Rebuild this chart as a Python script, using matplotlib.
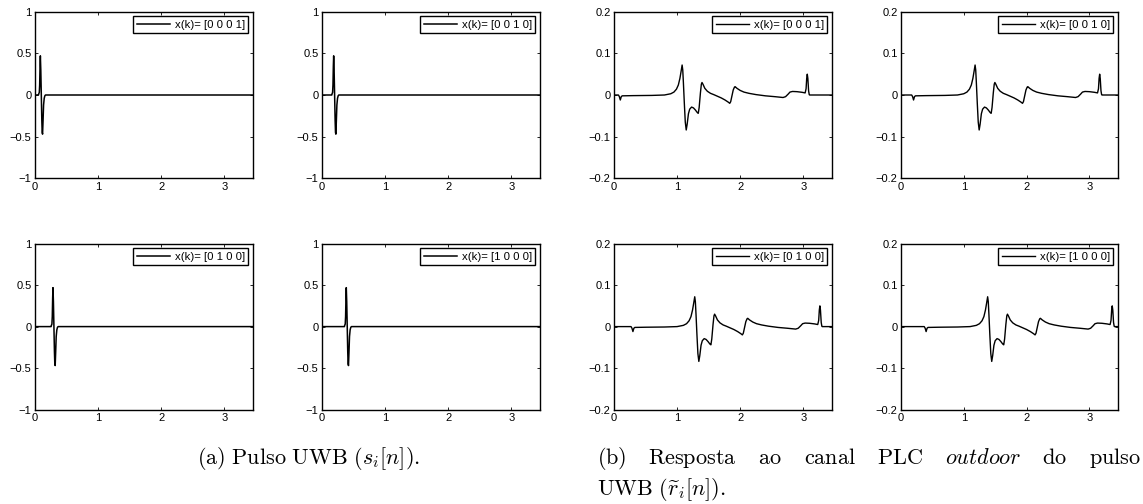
import numpy as np
import matplotlib
matplotlib.use("Agg")
import matplotlib.pyplot as plt

plt.rcParams['font.family'] = ['Liberation Sans', 'DejaVu Sans']
plt.rcParams['mathtext.fontset'] = 'cm'

# ---------------- data ----------------
legend_labels = ["x(k)= [0 0 0 1]", "x(k)= [0 0 1 0]", "x(k)= [0 1 0 0]", "x(k)= [1 0 0 0]"]
shifts = [0.0, 0.1, 0.2, 0.3]          # delay of each symbol position

# UWB pulse shape (time relative to pulse_center, amplitude)
pulse_t = [-0.060, -0.045, -0.038, -0.032, -0.026, -0.020, -0.015, -0.008, 0.000,
           0.008, 0.014, 0.020, 0.028, 0.036, 0.046, 0.056, 0.066, 0.080]
pulse_v = [0.0, 0.0, 0.02, 0.03, 0.12, 0.35, 0.47, 0.30, 0.0,
           -0.30, -0.45, -0.47, -0.30, -0.12, -0.04, -0.01, 0.0, 0.0]
pulse_center = 0.10

# channel response to the pulse
resp_t = [0.00, 0.07, 0.085, 0.10, 0.115, 0.13, 0.30, 0.60, 0.80, 0.90, 0.95, 0.99,
          1.02, 1.045, 1.065, 1.08, 1.09, 1.10, 1.115, 1.13, 1.145, 1.16, 1.18, 1.20,
          1.23, 1.26, 1.29, 1.32, 1.336, 1.35, 1.37, 1.385, 1.395, 1.41, 1.44, 1.48,
          1.53, 1.58, 1.64, 1.70, 1.76, 1.81, 1.835, 1.85, 1.87, 1.89, 1.91, 1.92,
          1.95, 2.00, 2.06, 2.14, 2.25, 2.40, 2.55, 2.68, 2.72, 2.76, 2.79, 2.83,
          2.90, 2.98, 3.03, 3.045, 3.055, 3.064, 3.073, 3.085, 3.095, 3.10, 3.60]
resp_v = [0.0, 0.0, -0.004, -0.012, -0.004, -0.002, -0.0015, -0.001, 0.0, 0.003, 0.007, 0.014,
          0.024, 0.040, 0.058, 0.072, 0.060, 0.030, -0.020, -0.065, -0.084, -0.070, -0.045, -0.034,
          -0.029, -0.031, -0.036, -0.042, -0.044, -0.030, 0.005, 0.026, 0.030, 0.026, 0.016, 0.009,
          0.004, 0.001, -0.003, -0.007, -0.012, -0.017, -0.020, -0.016, -0.002, 0.012, 0.019, 0.020,
          0.016, 0.011, 0.007, 0.004, 0.001, -0.002, -0.004, -0.006, -0.004, 0.002, 0.007, 0.0085,
          0.008, 0.0065, 0.005, 0.015, 0.040, 0.050, 0.040, 0.010, 0.001, 0.0, 0.0]

xlim = (0, 3.456)
pulse_ylim = (-1, 1)
pulse_yticks = [-1, -0.5, 0, 0.5, 1]
resp_ylim = (-0.2, 0.2)
resp_yticks = [-0.2, -0.1, 0, 0.1, 0.2]
xticks = [0, 1, 2, 3]

caption_a = r"$\mathrm{(a)\ Pulso\ UWB\ (}s_i[n]\mathrm{).}$"
caption_b_words = [r"$\mathrm{(b)}$", r"$\mathrm{Resposta}$", r"$\mathrm{ao}$", r"$\mathrm{canal}$",
                   r"$\mathrm{PLC}$", r"$\mathit{outdoor}$", r"$\mathrm{do}$", r"$\mathrm{pulso}$"]
caption_b_line2 = r"$\mathrm{UWB\ (}\widetilde{r}_i[n]\mathrm{).}$"

# ---------------- figure ----------------
W, H = 1143, 504
fig = plt.figure(figsize=(W / 100, H / 100), dpi=100)

cols = [(35, 253), (322, 540), (614, 832), (901, 1118)]
rows = [(11.7, 178.3), (243.7, 409.5)]

def make_ax(col, row):
    x0, x1 = cols[col]
    y0, y1 = rows[row]
    return fig.add_axes([x0 / W, 1 - y1 / H, (x1 - x0) / W, (y1 - y0) / H])

grid_pos = [(0, 0), (1, 0), (0, 1), (1, 1)]

def style(ax, ylim, yticks):
    ax.set_xlim(*xlim)
    ax.set_ylim(*ylim)
    ax.set_xticks(xticks)
    ax.set_yticks(yticks)
    ax.set_yticklabels([("%g" % v).replace("-", "\u2212") for v in yticks])
    ax.tick_params(direction='in', length=2.5, width=0.6, top=True, right=True,
                   labelsize=8, pad=2.5, colors='black')
    for s in ax.spines.values():
        s.set_linewidth(1.0)
        s.set_color('black')

def legend(ax):
    lg = ax.legend(loc='upper right', fontsize=8.2, handlelength=2.9, handletextpad=0.45,
                   borderaxespad=0.4, borderpad=0.3, fancybox=False, framealpha=1,
                   edgecolor='black')
    lg.get_frame().set_linewidth(1.0)

for i in range(4):
    c, r = grid_pos[i]
    ax = make_ax(c, r)
    t = np.concatenate([[0.0], np.array(pulse_t) + pulse_center + shifts[i], [xlim[1] + 0.1]])
    v = np.concatenate([[0.0], pulse_v, [0.0]])
    ax.plot(t, v, color='black', lw=1.1, label=legend_labels[i])
    style(ax, pulse_ylim, pulse_yticks)
    legend(ax)
    ax2 = make_ax(c + 2, r)
    t2 = np.concatenate([[0.0], np.array(resp_t) + shifts[i]])
    v2 = np.concatenate([[0.0], resp_v])
    ax2.plot(t2, v2, color='black', lw=1.0, label=legend_labels[i])
    style(ax2, resp_ylim, resp_yticks)
    legend(ax2)

cap_fs = 16
ta = fig.text(197 / W, 1 - 464 / H, caption_a, fontsize=cap_fs, ha='left', va='baseline')

# justified first line of caption (b)
x_left, x_right = 597, 1141
objs = [fig.text(0, 1 - 464 / H, w, fontsize=cap_fs, ha='left', va='baseline') for w in caption_b_words]
fig.canvas.draw()
r = fig.canvas.get_renderer()
widths = [o.get_window_extent(r).width for o in objs]
gap = (x_right - x_left - sum(widths)) / (len(objs) - 1)
x = x_left
for o, w in zip(objs, widths):
    o.set_x(x / W)
    x += w + gap

fig.text(597 / W, 1 - 495 / H, caption_b_line2, fontsize=cap_fs, ha='left', va='baseline')

fig.savefig("out.png", dpi=100)
